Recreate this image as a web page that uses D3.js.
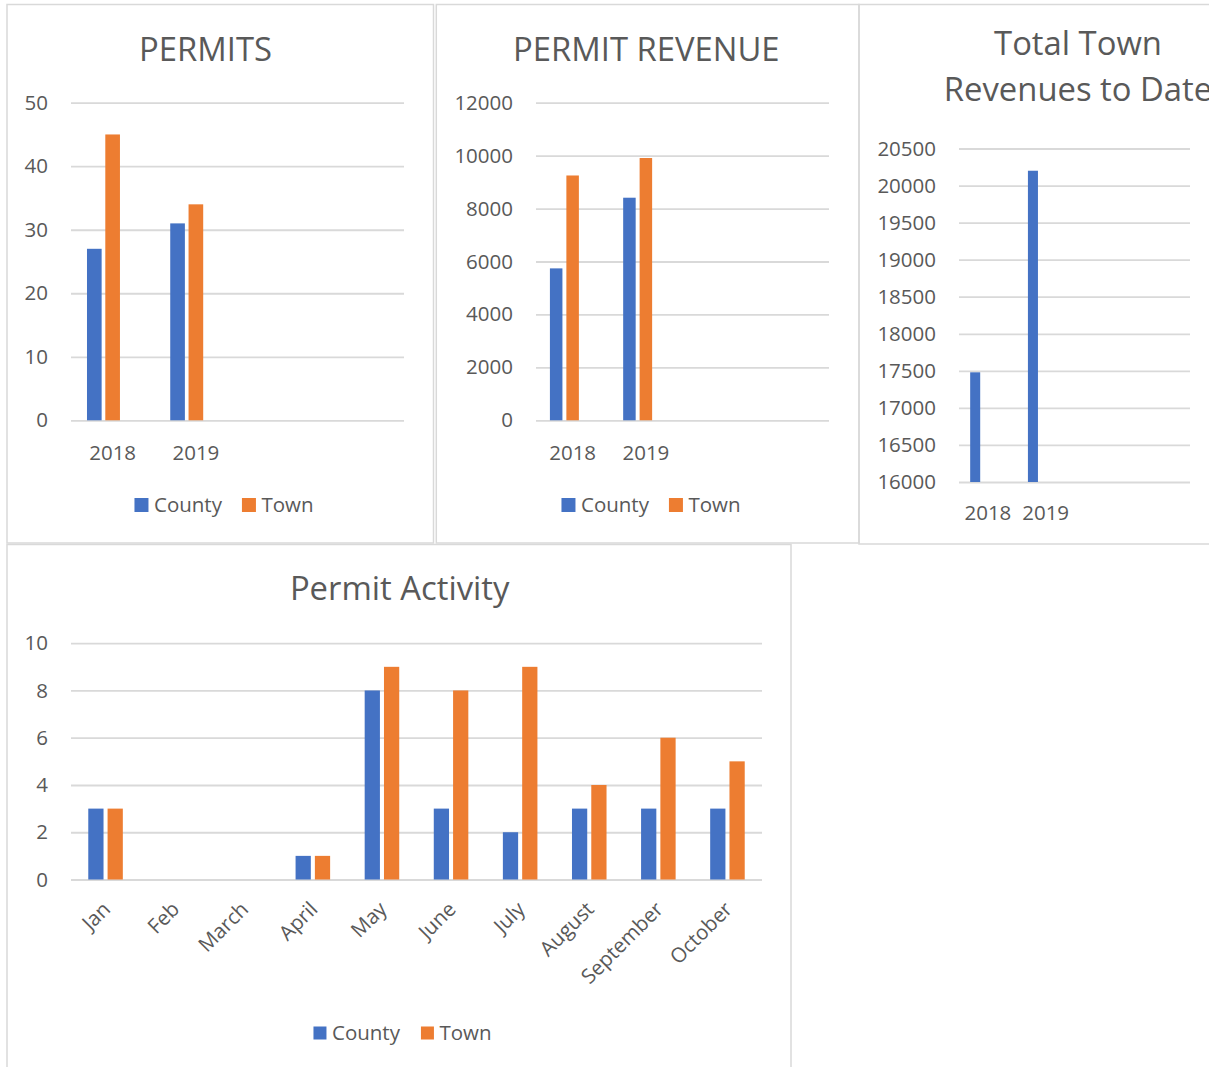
<!DOCTYPE html>
<html><head><meta charset="utf-8">
<script src="https://cdn.jsdelivr.net/npm/d3@7"></script>
<style>
body{margin:0;background:#fff;overflow:hidden}
text{font-family:"Open Sans",sans-serif;fill:#595959}
</style>
</head><body>
<svg id="c" width="1209" height="1067"></svg>
<script>
// ---------- data ----------
const years = ["2018", "2019"];
const yearSlots = 4;                 // category slots on the year charts
const seriesNames = ["County", "Town"];
const permitsCounty = [27, 31];
const permitsTown = [45, 34];
const permitsTicks = [0, 10, 20, 30, 40, 50];
const revenueCounty = [5740, 8410];
const revenueTown = [9250, 9910];
const revenueTicks = [0, 2000, 4000, 6000, 8000, 10000, 12000];
const totalTownRevenue = [17480, 20200];
const totalTicks = [16000, 16500, 17000, 17500, 18000, 18500, 19000, 19500, 20000, 20500];
const months = ["Jan", "Feb", "March", "April", "May", "June", "July", "August", "September", "October"];
const activityCounty = [3, 0, 0, 1, 8, 3, 2, 3, 3, 3];
const activityTown = [3, 0, 0, 1, 9, 8, 9, 4, 6, 5];
const activityTicks = [0, 2, 4, 6, 8, 10];
const colors = {County: "#4472C4", Town: "#ED7D31", Total: "#4472C4"};

const svg = d3.select("#c");
const GRID = "#d9d9d9";
const LABEL_SIZE = "20.5px";

function drawPanel(o) {
  svg.append("rect")
    .attr("x", o.frame[0]).attr("y", o.frame[1])
    .attr("width", o.frame[2] - o.frame[0]).attr("height", o.frame[3] - o.frame[1])
    .attr("fill", "none").attr("stroke", GRID).attr("stroke-width", 1.5);

  o.title.forEach((t, i) => {
    svg.append("text").attr("x", o.titleX).attr("y", o.titleY + i * 46)
      .attr("text-anchor", "middle").style("font-size", "32.8px").text(t);
  });

  const p = o.plot;
  const y = d3.scaleLinear().domain(o.yDomain).range([p.bottom, p.top]);
  const x0 = d3.scaleBand().domain(d3.range(o.slots)).range([p.left, p.right])
    .paddingInner(o.outerPad).paddingOuter(o.outerPad / 2);
  const x1 = d3.scaleBand().domain(o.innerKeys).range([0, x0.bandwidth()])
    .paddingInner(o.innerPad);

  const ya = svg.append("g").attr("transform", `translate(${p.left},0)`)
    .call(d3.axisLeft(y).tickValues(o.ticks).tickSize(-(p.right - p.left))
      .tickPadding(23).tickFormat(d3.format("d")));
  ya.select(".domain").remove();
  ya.selectAll("line").attr("stroke", GRID).attr("stroke-width", 1.8);
  ya.selectAll("text").style("font-size", LABEL_SIZE);

  const xa = svg.append("g").attr("transform", `translate(0,${p.bottom})`)
    .call(d3.axisBottom(x0).tickSize(0).tickPadding(o.xPad)
      .tickFormat(i => o.categories[i] || ""));
  xa.select(".domain").remove();
  xa.selectAll("text").style("font-size", LABEL_SIZE);
  if (o.rotate) {
    xa.selectAll("text").attr("x", 0).attr("y", 0).attr("dy", 0)
      .attr("transform", `translate(6,${o.rotY}) rotate(-45)`)
      .style("text-anchor", "end");
  }

  const base = o.yDomain[0];
  o.series.forEach(s => {
    svg.append("g").selectAll("rect")
      .data(s.values.map((v, j) => ({j, v})))
      .join("rect")
      .attr("x", d => x0(d.j) + x1(s.key))
      .attr("y", d => y(d.v))
      .attr("width", x1.bandwidth())
      .attr("height", d => y(base) - y(d.v))
      .attr("fill", colors[s.key]);
  });

  if (o.legend) {
    const L = o.legend;
    const lg = svg.append("g");
    const items = lg.selectAll("g").data(seriesNames).join("g");
    items.append("rect").attr("width", L.size).attr("height", L.size)
      .attr("y", L.cy - L.size / 2).attr("fill", d => colors[d]);
    items.append("text").attr("x", L.size + 5.5).attr("y", L.cy + 7)
      .style("font-size", LABEL_SIZE).text(d => d);
    const widths = [];
    items.each(function () {
      const w = L.size + 5.5 + d3.select(this).select("text").node().getComputedTextLength();
      widths.push(w);
    });
    const total = d3.sum(widths) + L.spacing * (widths.length - 1);
    let cur = L.cx - total / 2;
    items.attr("transform", (d, i) => {
      const t = `translate(${cur},0)`;
      cur += widths[i] + L.spacing;
      return t;
    });
  }
}

// PERMITS
drawPanel({
  frame: [7, 4.5, 433.5, 543],
  title: ["PERMITS"], titleX: 205.5, titleY: 61,
  plot: {left: 71, right: 404, top: 102.7, bottom: 420.3},
  yDomain: [0, 50], ticks: permitsTicks,
  slots: yearSlots, categories: years,
  outerPad: 0.384, innerPad: 0.2, innerKeys: ["County", "Town", "_"],
  xPad: 25,
  series: [{key: "County", values: permitsCounty}, {key: "Town", values: permitsTown}],
  legend: {cx: 224, cy: 505, size: 14, spacing: 20}
});

// PERMIT REVENUE
drawPanel({
  frame: [436.3, 4.5, 859, 543],
  title: ["PERMIT REVENUE"], titleX: 646.3, titleY: 61,
  plot: {left: 536, right: 829, top: 102.7, bottom: 420.3},
  yDomain: [0, 12000], ticks: revenueTicks,
  slots: yearSlots, categories: years,
  outerPad: 0.38, innerPad: 0.24, innerKeys: ["County", "Town", "_"],
  xPad: 25,
  series: [{key: "County", values: revenueCounty}, {key: "Town", values: revenueTown}],
  legend: {cx: 651, cy: 505, size: 14, spacing: 20}
});

// Total Town Revenues to Date
drawPanel({
  frame: [859, 4.5, 1225, 544],
  title: ["Total Town", "Revenues to Date"], titleX: 1078, titleY: 54.6,
  plot: {left: 959, right: 1190, top: 148.5, bottom: 482},
  yDomain: [16000, 20500], ticks: totalTicks,
  slots: yearSlots, categories: years,
  outerPad: 0.387, innerPad: 0.21, innerKeys: ["Total", "_a", "_b"],
  xPad: 23.4,
  series: [{key: "Total", values: totalTownRevenue}],
  legend: null
});

// Permit Activity
drawPanel({
  frame: [7, 544.5, 791, 1090],
  title: ["Permit Activity"], titleX: 399.7, titleY: 599.5,
  plot: {left: 71, right: 762, top: 643.2, bottom: 879.5},
  yDomain: [0, 10], ticks: activityTicks,
  slots: months.length, categories: months,
  outerPad: 0.5, innerPad: 0.21, innerKeys: ["County", "Town"],
  xPad: 0, rotate: true, rotY: 31,
  series: [{key: "County", values: activityCounty}, {key: "Town", values: activityTown}],
  legend: {cx: 402.5, cy: 1033, size: 13, spacing: 21}
});
</script>
</body></html>
